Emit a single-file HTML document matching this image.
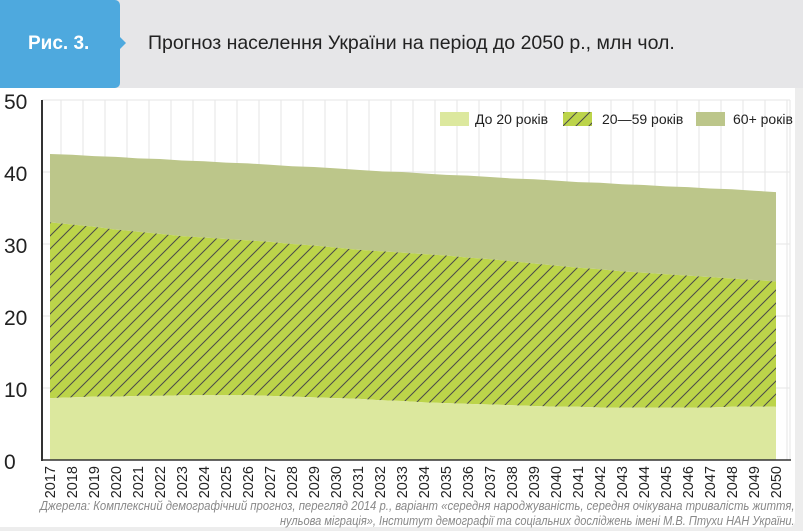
<!DOCTYPE html>
<html><head><meta charset="utf-8"><style>
body{margin:0;width:803px;height:531px;background:#ededed;font-family:"Liberation Sans",sans-serif;overflow:hidden;position:relative}
#hdr{position:absolute;left:0;top:0;width:803px;height:88px;background:#e6e6e8}
#badge{position:absolute;left:0;top:0;width:120px;height:88px;background:#4ea9de;border-radius:0 5px 5px 0;color:#fff;font-weight:bold;font-size:19px;line-height:88px;text-indent:28px}
#badge:after{content:"";position:absolute;right:-6px;top:37px;border-left:6px solid #4ea9de;border-top:6px solid transparent;border-bottom:6px solid transparent}
#title{position:absolute;left:148px;top:32px;font-size:19.5px;color:#222}
#panel{position:absolute;left:0;top:88px;width:795px;height:439px;background:#fff;border-radius:0 0 6px 0}
.foot{position:absolute;right:8px;white-space:nowrap;font-style:italic;font-size:12.5px;color:#888;transform-origin:right top}
svg{position:absolute;left:0;top:0}
</style></head><body>
<div id="hdr"></div>
<div id="badge">Рис. 3.</div>
<div id="title">Прогноз населення України на період до 2050 р., млн чол.</div>
<div id="panel"></div>
<svg id="chart" width="803" height="531">
<defs><pattern id="hatch" patternUnits="userSpaceOnUse" width="13" height="13">
<rect width="13" height="13" fill="#bcd44a"/><path d="M-1,14 L14,-1 M-3,3 L3,-3 M10,16 L16,10" stroke="#4a4a4a" stroke-width="1"/></pattern></defs>
</svg>
<div class="foot" id="f1" style="top:499px">Джерела: Комплексний демографічний прогноз, перегляд 2014 р., варіант «середня народжуваність, середня очікувана тривалість життя,</div>
<div class="foot" id="f2" style="top:514px">нульова міграція», Інститут демографії та соціальних досліджень імені М.В. Птухи НАН України.</div>
<script>
const years=[];for(let y=2017;y<=2050;y++)years.push(y);
const under20=[8.6,8.7,8.8,8.8,8.9,8.9,9.0,9.0,9.0,9.0,8.9,8.8,8.7,8.6,8.5,8.3,8.2,8.0,7.9,7.8,7.7,7.6,7.5,7.4,7.4,7.3,7.3,7.3,7.3,7.3,7.3,7.4,7.4,7.4];
const age20to59=[24.4,24.0,23.6,23.2,22.8,22.5,22.1,21.9,21.7,21.5,21.4,21.2,21.1,20.9,20.7,20.7,20.6,20.6,20.5,20.3,20.2,20.0,19.8,19.6,19.3,19.2,18.9,18.7,18.5,18.3,18.1,17.8,17.6,17.4];
const age60plus=[9.5,9.7,9.8,10.1,10.2,10.4,10.5,10.6,10.6,10.7,10.7,10.8,10.9,11.0,11.1,11.1,11.2,11.2,11.2,11.4,11.4,11.5,11.7,11.8,11.9,12.0,12.1,12.2,12.2,12.3,12.3,12.4,12.4,12.4];
const yTicks=[0,10,20,30,40,50];
const NS="http://www.w3.org/2000/svg",svg=document.getElementById('chart');
const x0=50,x1=776,yZero=460,yTop=100;
const X=i=>x0+(x1-x0)*i/(years.length-1);
const Y=v=>yZero-(yZero-yTop)*v/50;
function mk(t,a){const e=document.createElementNS(NS,t);for(const k in a)e.setAttribute(k,a[k]);svg.appendChild(e);return e;}
for(let i=1;i<=years.length;i++){const gx=X(i)-11;
 const g=mk('line',{x1:gx,x2:gx,y1:yTop,y2:yZero,stroke:'#e6e6e6'});
 }
mk('line',{x1:790,x2:790,y1:yTop,y2:yZero,stroke:'#e6e6e6'});
yTicks.forEach(t=>{
 const g=mk('line',{x1:42,x2:790,y1:Y(t),y2:Y(t),stroke:'#e6e6e6'});
 
 const l=mk('text',{x:4,y:Y(t)+9,'font-size':21,fill:'#222'});l.textContent=t;
 
});
const s1=under20.map((v,i)=>v+age20to59[i]);
const s2=s1.map((v,i)=>v+age60plus[i]);
function area(top,bot,fill,name){
 let d='M'+top.map((v,i)=>X(i)+','+Y(v)).join(' L');
 for(let i=bot.length-1;i>=0;i--)d+=' L'+X(i)+','+Y(bot[i]);
 const p=mk('path',{d:d+'Z',fill:fill});
 }
const zeros=years.map(()=>0);
area(s2,s1,'#bcc68a','area-60-plus');
area(s1,under20,'url(#hatch)','area-20-59');
area(under20,zeros,'#dce89e','area-under-20');
const ya=mk('line',{x1:42,x2:42,y1:yTop,y2:yZero+1,stroke:'#333','stroke-width':2});

const xa=mk('line',{x1:41,x2:791,y1:yZero,y2:yZero,stroke:'#333','stroke-width':1.5});

years.forEach((y,i)=>{
 const t=mk('text',{transform:`translate(${X(i)+5},${466}) rotate(-90)`,'text-anchor':'end','font-size':14.5,fill:'#222'});
 t.textContent=y;
 
});
const leg=[['#dce89e','До 20 років',440,475],['url(#hatch)','20—59 років',563,602],['#bcc68a','60+ років',696,733]];
leg.forEach(l=>{
 const r=mk('rect',{x:l[2],y:112,width:29,height:14,fill:l[0]});
 
 const t=mk('text',{x:l[3],y:124,'font-size':14,fill:'#222'});t.textContent=l[1];
 
});
// fit footnote lines
[['f1',755],['f2',515]].forEach(([id,w])=>{const e=document.getElementById(id);e.style.transform='scaleX('+(w/e.offsetWidth)+')';});
</script>
</body></html>
